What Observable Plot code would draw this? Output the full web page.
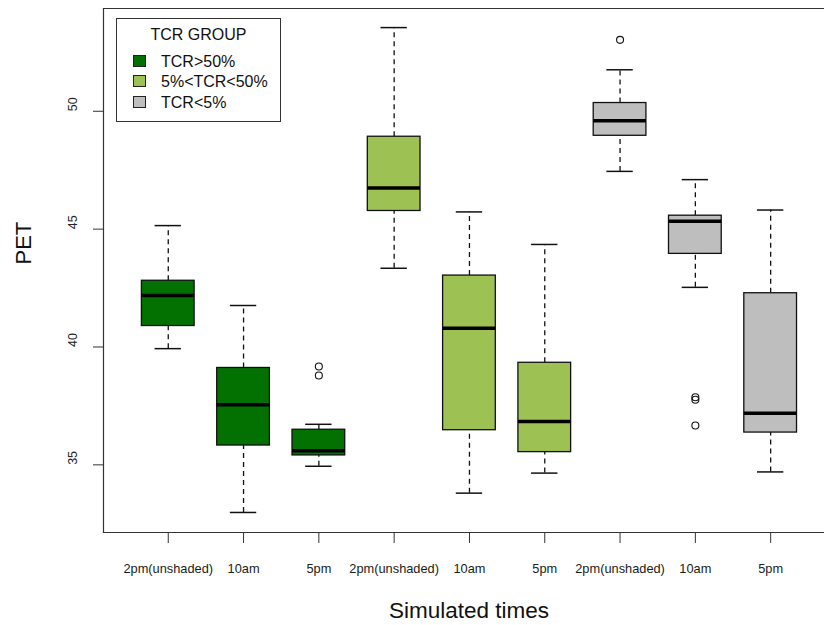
<!DOCTYPE html>
<html>
<head>
<meta charset="utf-8">
<script src="https://cdn.jsdelivr.net/npm/d3@7"></script>
<script src="https://cdn.jsdelivr.net/npm/@observablehq/plot@0.6"></script>
<style>
  html, body { margin: 0; padding: 0; background: #fff; }
  #wrap { position: relative; width: 824px; height: 625px; overflow: hidden; font-family: "Liberation Sans", Arial, sans-serif; }
  #legend { position: absolute; left: 116px; top: 18px; width: 165px; height: 104px; box-sizing: border-box; border: 1px solid #333; background: #fff; color: #111; font-size: 16px; }
  #legend .ttl { position: absolute; left: 0; right: 0; top: 6px; height: 20px; line-height: 20px; text-align: center; }
  #legend .row { position: absolute; left: 0; right: 0; height: 20px; line-height: 20px; }
  #legend .sw { position: absolute; left: 16px; top: 3px; width: 13px; height: 12px; box-sizing: border-box; border: 1px solid #222; }
  #legend .lab { position: absolute; left: 44px; top: 0; white-space: nowrap; }
</style>
</head>
<body>
<div id="wrap"></div>
<script>
// ---- data ----
const categories = ["2pm(unshaded)", "10am", "5pm", "2pm(unshaded)", "10am", "5pm", "2pm(unshaded)", "10am", "5pm"];
const groups = ["TCR>50%", "5%<TCR<50%", "TCR<5%"];
const groupColors = ["#027102", "#9DC153", "#BEBEBE"];
const whiskerLow  = [39.93, 32.98, 34.94, 43.34, 33.80, 34.65, 47.45, 42.53, 34.70];
const q1          = [40.89, 35.82, 35.40, 45.77, 36.47, 35.54, 48.96, 43.95, 36.37];
const median      = [42.18, 37.55, 35.60, 46.74, 40.79, 36.84, 49.60, 45.33, 37.19];
const q3          = [42.81, 39.11, 36.49, 48.92, 43.03, 39.33, 50.35, 45.57, 42.28];
const whiskerHigh = [45.15, 41.76, 36.72, 53.55, 45.73, 44.35, 51.76, 47.10, 45.81];
const outlierBox   = [3, 3, 7, 8, 8, 8];
const outlierValue = [39.17, 38.79, 53.03, 37.87, 37.76, 36.67];
const yTicks = [35, 40, 45, 50];

// ---- tables ----
const boxes = categories.map((c, i) => ({
  pos: i + 1, cat: c, group: groups[Math.floor(i / 3)],
  lo: whiskerLow[i], q1: q1[i], med: median[i], q3: q3[i], hi: whiskerHigh[i]
}));
const outliers = outlierBox.map((b, i) => ({pos: b, value: outlierValue[i]}));
const positions = boxes.map(d => d.pos);

const BW = 0.35, CW = 0.175;
const ink = "#111";

const chart = Plot.plot({
  width: 824,
  height: 625,
  marginLeft: 103,
  marginRight: 0,
  marginTop: 8,
  marginBottom: 93,
  style: {fontFamily: "'Liberation Sans', Arial, sans-serif", background: "#fff", color: "#222"},
  x: {type: "linear", domain: [0.14, 9.715], axis: null},
  y: {domain: [32.13, 54.36], axis: null},
  color: {domain: groups, range: groupColors},
  marks: [
    Plot.frame({anchor: "top", stroke: "#333", strokeWidth: 1.2}),
    Plot.frame({anchor: "left", stroke: "#333", strokeWidth: 1.2}),
    Plot.frame({anchor: "bottom", stroke: "#333", strokeWidth: 1.2}),
    Plot.axisY({ticks: yTicks, tickSize: 10, tickFormat: () => "", label: null, stroke: "#333"}),
    Plot.axisX({ticks: positions, tickSize: 11, tickFormat: () => "", label: null, stroke: "#333"}),
    Plot.text(yTicks, {y: d => d, text: d => String(d), frameAnchor: "left", dx: -31, rotate: -90, fontSize: 12.5, fill: "#222"}),
    Plot.text(boxes, {x: "pos", text: "cat", frameAnchor: "bottom", dy: 40, fontSize: 12.8, fill: "#1a1a1a"}),
    Plot.text(["PET"], {frameAnchor: "left", dx: -80, dy: -6, rotate: -90, fontSize: 22, fill: "#111"}),
    Plot.text(["Simulated times"], {frameAnchor: "bottom", dx: 5, dy: 85, fontSize: 22.5, fill: "#111"}),
    // whiskers
    Plot.ruleX(boxes, {x: "pos", y1: "q3", y2: "hi", stroke: ink, strokeWidth: 1.3, strokeDasharray: "5,4"}),
    Plot.ruleX(boxes, {x: "pos", y1: "lo", y2: "q1", stroke: ink, strokeWidth: 1.3, strokeDasharray: "5,4"}),
    Plot.ruleY(boxes, {y: "hi", x1: d => d.pos - CW, x2: d => d.pos + CW, stroke: ink, strokeWidth: 1.5}),
    Plot.ruleY(boxes, {y: "lo", x1: d => d.pos - CW, x2: d => d.pos + CW, stroke: ink, strokeWidth: 1.5}),
    // boxes
    Plot.rect(boxes, {x1: d => d.pos - BW, x2: d => d.pos + BW, y1: "q1", y2: "q3", fill: "group", stroke: ink, strokeWidth: 1.3}),
    Plot.ruleY(boxes, {y: "med", x1: d => d.pos - BW, x2: d => d.pos + BW, stroke: "#000", strokeWidth: 3.5}),
    // outliers
    Plot.dot(outliers, {x: "pos", y: "value", r: 3.5, stroke: ink, strokeWidth: 1.1, fill: "none"})
  ]
});

const wrap = document.getElementById("wrap");
wrap.appendChild(chart);

// legend (HTML overlay inside the plot area)
const legend = document.createElement("div");
legend.id = "legend";
const ttl = document.createElement("div");
ttl.className = "ttl";
ttl.textContent = "TCR GROUP";
legend.appendChild(ttl);
const rowTops = [33, 53, 74];
groups.forEach((g, i) => {
  const row = document.createElement("div");
  row.className = "row";
  row.style.top = rowTops[i] + "px";
  const sw = document.createElement("div");
  sw.className = "sw";
  sw.style.background = groupColors[i];
  const lab = document.createElement("div");
  lab.className = "lab";
  lab.textContent = g;
  row.appendChild(sw);
  row.appendChild(lab);
  legend.appendChild(row);
});
wrap.appendChild(legend);
</script>
</body>
</html>
